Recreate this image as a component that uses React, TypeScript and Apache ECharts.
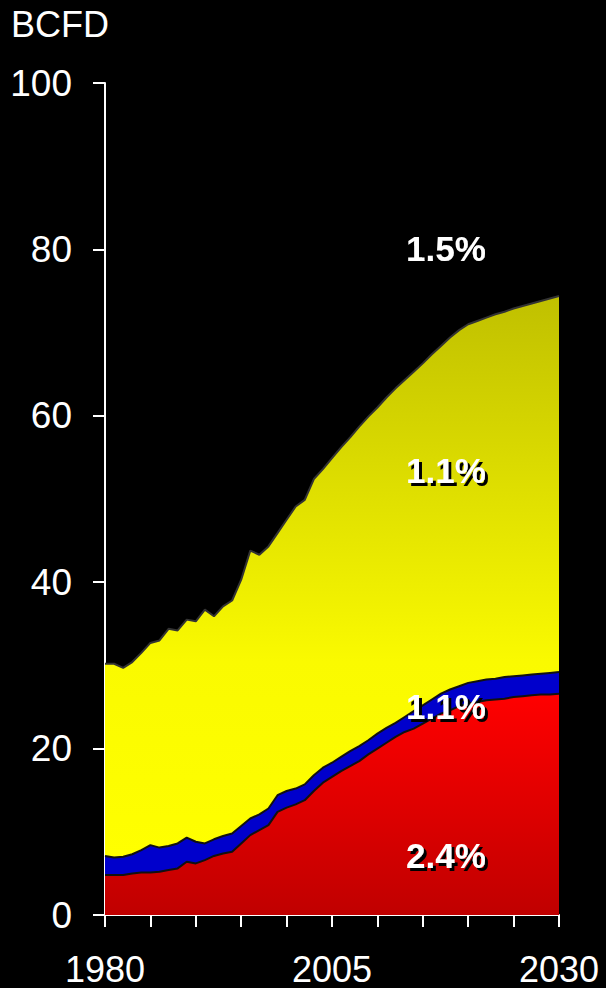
import React, { useEffect, useRef } from "react";
import * as echarts from "echarts";

const years: string[] = [];
for (let y = 1980; y <= 2030; y++) years.push(String(y));

// Bottom layer (red) top edge
const redValues = [
  4.8, 4.8, 4.8, 5.0, 5.1, 5.1, 5.2, 5.4, 5.6, 6.4,
  6.2, 6.6, 7.1, 7.4, 7.6, 8.6, 9.6, 10.2, 10.8, 12.4,
  12.9, 13.3, 13.8, 14.9, 15.9, 16.6, 17.3, 17.9, 18.5, 19.3,
  20.0, 20.7, 21.4, 22.0, 22.4, 23.0, 23.6, 24.2, 24.6, 25.1,
  25.4, 25.6, 25.8, 25.9, 26.0, 26.2, 26.3, 26.4, 26.5, 26.5,
  26.6,
];
// Red + blue top edge
const redBlueTop = [
  7.1, 6.9, 7.0, 7.3, 7.8, 8.4, 8.1, 8.3, 8.6, 9.3,
  8.8, 8.6, 9.1, 9.5, 9.8, 10.7, 11.6, 12.1, 12.8, 14.4,
  14.9, 15.2, 15.7, 16.8, 17.7, 18.3, 19.0, 19.7, 20.3, 21.0,
  21.8, 22.5, 23.1, 23.8, 24.5, 25.2, 25.9, 26.6, 27.1, 27.5,
  27.9, 28.1, 28.3, 28.4, 28.6, 28.7, 28.8, 28.9, 29.0, 29.1,
  29.2,
];
// Total top edge
const totalValues = [
  30.2, 30.2, 29.7, 30.4, 31.5, 32.7, 33.0, 34.4, 34.2, 35.5,
  35.3, 36.7, 35.9, 37.1, 37.8, 40.3, 43.8, 43.3, 44.3, 45.9,
  47.5, 49.1, 49.9, 52.4, 53.6, 54.9, 56.2, 57.4, 58.7, 59.9,
  61.0, 62.2, 63.3, 64.3, 65.3, 66.3, 67.4, 68.4, 69.4, 70.3,
  71.0, 71.4, 71.8, 72.2, 72.5, 72.9, 73.2, 73.5, 73.8, 74.1,
  74.4,
];

const yTicks = [0, 20, 40, 60, 80, 100];
const xLabelYears = ["1980", "2005", "2030"];
const growthLabels = ["1.5%", "1.1%", "1.1%", "2.4%"];
const unitLabel = "BCFD";

const FONT = "Arial, 'Liberation Sans', Helvetica, sans-serif";

export default function App() {
  const ref = useRef<HTMLDivElement>(null);
  useEffect(() => {
    if (!ref.current) return;
    const chart = echarts.init(ref.current, null, { renderer: "svg" });
    const blueValues = redBlueTop.map((v, i) => Math.round((v - redValues[i]) * 100) / 100);
    const yellowValues = totalValues.map((v, i) => Math.round((v - redBlueTop[i]) * 100) / 100);

    const labelPos = [
      { x: 446, y: 248 },
      { x: 446, y: 470 },
      { x: 446, y: 706 },
      { x: 446, y: 855 },
    ];

    chart.setOption({
      animation: false,
      backgroundColor: "#000000",
      grid: { left: 105, right: 47, top: 83, bottom: 73 },
      xAxis: {
        type: "category",
        data: years,
        boundaryGap: false,
        splitLine: { show: false },
        axisLine: { show: true, lineStyle: { color: "#ffffff", width: 2 } },
        axisTick: { show: true, interval: 4, length: 12, lineStyle: { color: "#ffffff", width: 2 } },
        axisLabel: {
          color: "#ffffff",
          fontSize: 36,
          fontFamily: FONT,
          margin: 36,
          interval: 0,
          formatter: (v: string) => (xLabelYears.includes(v) ? v : ""),
        },
      },
      yAxis: {
        type: "value",
        min: yTicks[0],
        max: yTicks[yTicks.length - 1],
        interval: 20,
        splitLine: { show: false },
        axisLine: { show: true, lineStyle: { color: "#ffffff", width: 2 } },
        axisTick: { show: true, length: 12, lineStyle: { color: "#ffffff", width: 2 } },
        axisLabel: {
          color: "#ffffff",
          fontSize: 37,
          fontFamily: FONT,
          margin: 33,
        },
      },
      series: [
        {
          name: "red",
          type: "line",
          stack: "total",
          data: redValues,
          symbol: "none",
          showSymbol: false,
          lineStyle: { color: "#111111", width: 2 },
          areaStyle: {
            opacity: 1,
            color: new echarts.graphic.LinearGradient(0, 0, 0, 1, [
              { offset: 0, color: "#ff0000" },
              { offset: 1, color: "#c00000" },
            ]),
          },
        },
        {
          name: "blue",
          type: "line",
          stack: "total",
          data: blueValues,
          symbol: "none",
          showSymbol: false,
          lineStyle: { color: "#111111", width: 2 },
          areaStyle: { opacity: 1, color: "#0000cc" },
        },
        {
          name: "yellow",
          type: "line",
          stack: "total",
          data: yellowValues,
          symbol: "none",
          showSymbol: false,
          lineStyle: { color: "#333333", width: 2 },
          areaStyle: {
            opacity: 1,
            color: new echarts.graphic.LinearGradient(0, 0, 0, 1, [
              { offset: 0, color: "#c0c000" },
              { offset: 0.65, color: "#fafa00" },
              { offset: 1, color: "#ffff00" },
            ]),
          },
        },
      ],
      graphic: [
        {
          type: "text",
          left: 11,
          top: 6,
          style: { text: unitLabel, fill: "#ffffff", fontSize: 36, fontFamily: FONT },
        },
        ...growthLabels.map((t, i) => ({
          type: "text",
          x: labelPos[i].x,
          y: labelPos[i].y,
          style: {
            text: t,
            fill: "#ffffff",
            fontSize: 35,
            fontWeight: "bold",
            fontFamily: FONT,
            align: "center",
            verticalAlign: "middle",
            textShadowColor: "#000000",
            textShadowOffsetX: 3,
            textShadowOffsetY: 3,
            textShadowBlur: 0.5,
          },
          z: 10,
        })),
      ],
    });
    return () => chart.dispose();
  }, []);
  return (
    <div
      ref={ref}
      style={{ position: "fixed", left: 0, top: 0, width: 606, height: 988, background: "#000" }}
    />
  );
}
